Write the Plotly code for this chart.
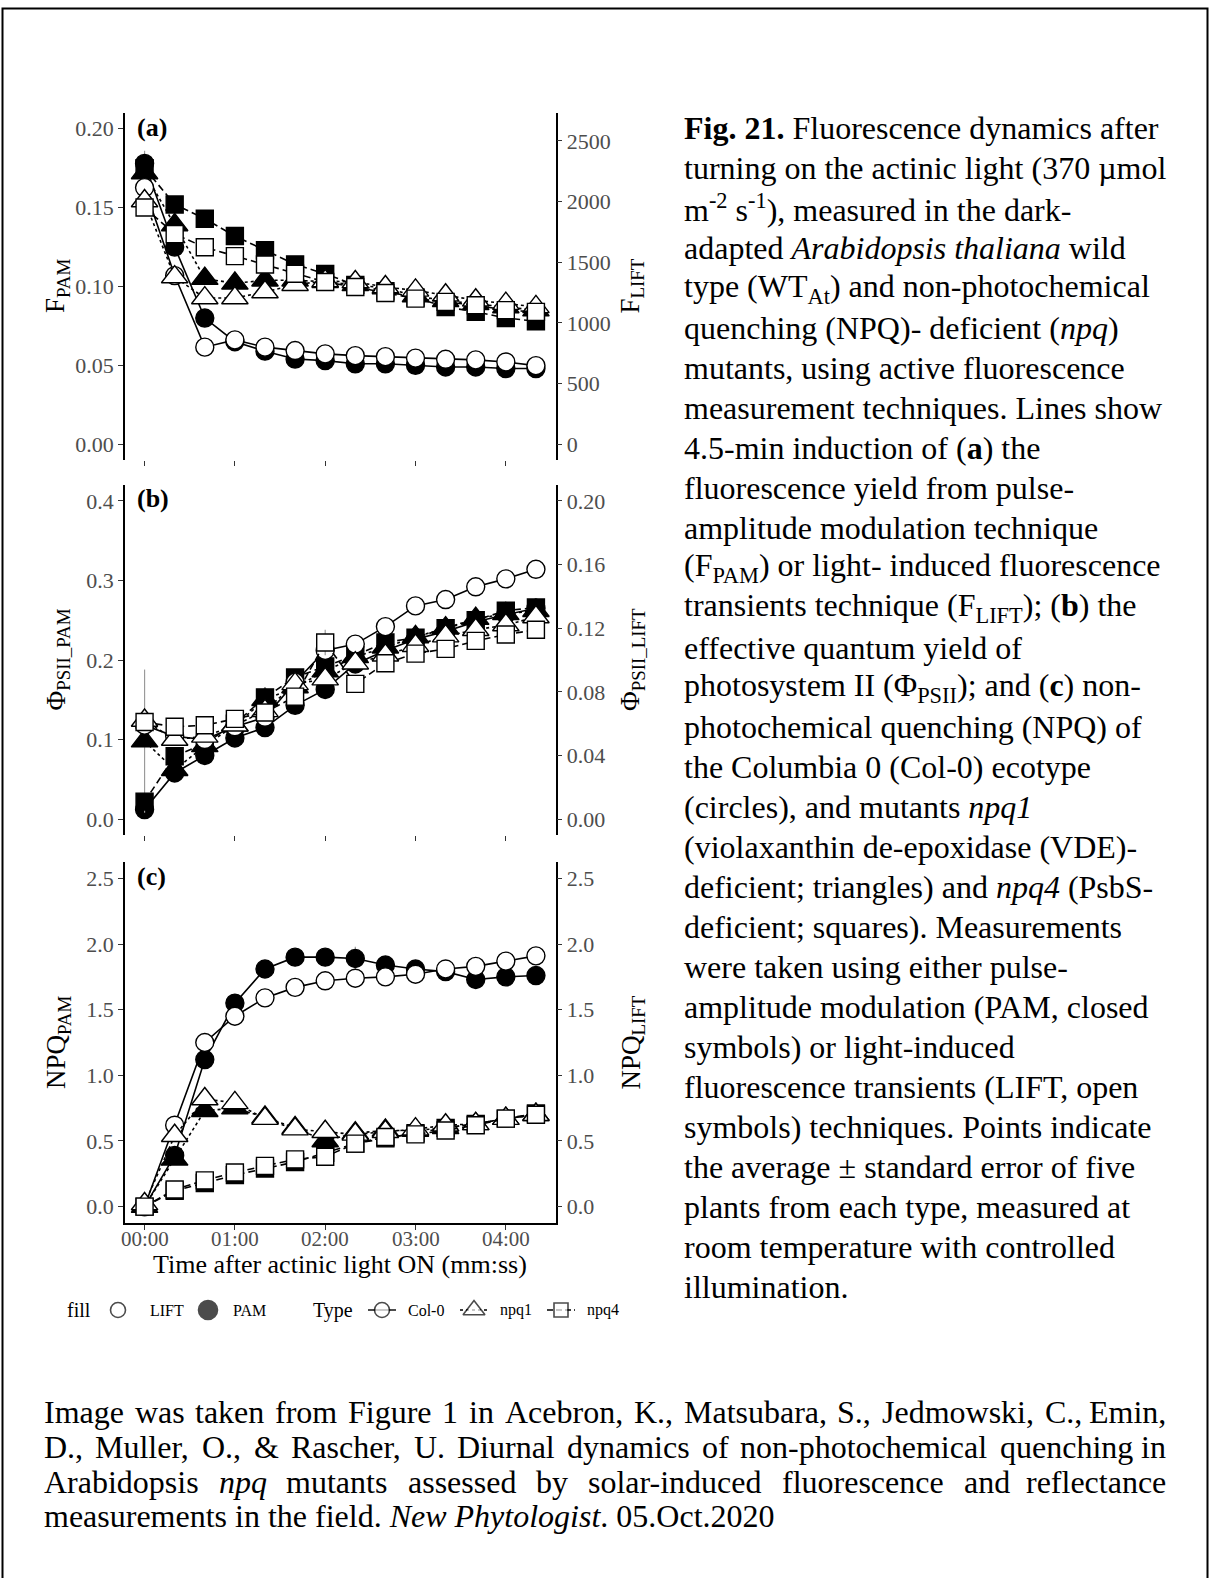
import plotly.graph_objects as go

W, H = 1210, 1578
SERIF = "Liberation Serif"
TICK_GREY = "#4D4D4D"

# ---------------------------------------------------------------- data
t_sec = [0, 20, 40, 60, 80, 100, 120, 140, 160, 180, 200, 220, 240, 260]
time_ticks = [0, 60, 120, 180, 240]
time_labels = ["00:00", "01:00", "02:00", "03:00", "04:00"]

# (a) fluorescence yield: PAM (left axis) and LIFT (right axis)
fpam_col0 = [0.178, 0.125, 0.080, 0.065, 0.059, 0.054, 0.053, 0.051, 0.051, 0.050, 0.049, 0.049, 0.048, 0.048]
fpam_npq1 = [0.172, 0.139, 0.105, 0.102, 0.104, 0.104, 0.103, 0.101, 0.099, 0.094, 0.091, 0.089, 0.087, 0.085]
fpam_npq4 = [0.175, 0.152, 0.143, 0.132, 0.123, 0.114, 0.108, 0.101, 0.097, 0.093, 0.087, 0.084, 0.080, 0.078]
flift_col0 = [2115, 1390, 800, 860, 800, 772, 745, 730, 722, 710, 700, 695, 678, 648]
flift_npq1 = [2005, 1378, 1205, 1205, 1255, 1315, 1345, 1337, 1296, 1268, 1228, 1187, 1159, 1132]
flift_npq4 = [1951, 1732, 1623, 1550, 1481, 1405, 1337, 1296, 1247, 1200, 1173, 1146, 1105, 1091]
fpam_col0_se = [0.008, 0, 0, 0, 0, 0, 0, 0, 0, 0, 0, 0, 0, 0]

# (b) effective quantum yield of PSII
phi_pam_col0 = [0.012, 0.058, 0.080, 0.102, 0.115, 0.143, 0.163, 0.195, 0.212, 0.226, 0.236, 0.248, 0.257, 0.265]
phi_pam_npq1 = [0.098, 0.062, 0.092, 0.118, 0.150, 0.166, 0.186, 0.204, 0.216, 0.229, 0.240, 0.252, 0.258, 0.262]
phi_pam_npq4 = [0.022, 0.079, 0.095, 0.120, 0.153, 0.178, 0.192, 0.206, 0.222, 0.228, 0.240, 0.250, 0.262, 0.266]
phi_lift_col0 = [0.059, 0.052, 0.050, 0.058, 0.064, 0.086, 0.106, 0.110, 0.121, 0.134, 0.138, 0.146, 0.151, 0.157]
phi_lift_npq1 = [0.062, 0.050, 0.052, 0.059, 0.068, 0.085, 0.088, 0.098, 0.103, 0.109, 0.115, 0.119, 0.122, 0.127]
phi_lift_npq4 = [0.061, 0.058, 0.059, 0.063, 0.067, 0.077, 0.111, 0.085, 0.098, 0.104, 0.107, 0.112, 0.116, 0.119]
phi_pam_npq1_se = [0.090, 0, 0, 0, 0, 0, 0, 0, 0, 0, 0, 0, 0, 0]
phi_pam_npq4_se = [0, 0, 0, 0, 0.012, 0, 0.010, 0, 0, 0, 0, 0, 0, 0]
phi_lift_npq4_se = [0, 0, 0, 0, 0, 0, 0.008, 0, 0, 0, 0, 0, 0, 0]

# (c) non-photochemical quenching
npq_pam_col0 = [0.00, 0.39, 1.12, 1.55, 1.81, 1.90, 1.90, 1.89, 1.84, 1.81, 1.79, 1.73, 1.75, 1.76]
npq_pam_npq1 = [0.00, 0.36, 0.73, 0.75, 0.68, 0.60, 0.50, 0.56, 0.58, 0.58, 0.60, 0.63, 0.67, 0.70]
npq_pam_npq4 = [0.00, 0.12, 0.18, 0.24, 0.29, 0.34, 0.41, 0.48, 0.52, 0.56, 0.60, 0.63, 0.67, 0.71]
npq_lift_col0 = [0.00, 0.62, 1.25, 1.45, 1.59, 1.67, 1.72, 1.74, 1.75, 1.77, 1.81, 1.83, 1.87, 1.91]
npq_lift_npq1 = [0.02, 0.54, 0.82, 0.79, 0.67, 0.59, 0.57, 0.55, 0.57, 0.59, 0.62, 0.63, 0.67, 0.70]
npq_lift_npq4 = [0.00, 0.13, 0.20, 0.26, 0.31, 0.36, 0.38, 0.48, 0.53, 0.55, 0.58, 0.62, 0.67, 0.70]
npq_pam_col0_se = [0, 0, 0, 0, 0, 0.03, 0, 0.09, 0.03, 0, 0, 0, 0, 0]

# ---------------------------------------------------------------- geometry helpers (pixels -> paper)
def px(x):
    return x / W


def py(y):
    return 1 - y / H


X_LEFT, X_RIGHT = 125, 555.5
PANEL_ROWS = {"a": (113, 460), "b": (485, 835), "c": (862, 1223)}

STYLE = {
    "Col-0": dict(symbol="circle", size=18, dash="solid"),
    "npq1": dict(symbol="triangle-up", size=23, dash="3px,3px"),
    "npq4": dict(symbol="square", size=17, dash="7px,4px"),
}

fig = go.Figure()


def add_series(xa, ya, yvals, genotype, filled, se=None):
    st = STYLE[genotype]
    err = None
    if se is not None:
        err = dict(type="data", array=se, visible=True, color="#9A9A9A", thickness=1.2, width=0)
    fig.add_trace(go.Scatter(
        x=t_sec, y=yvals, xaxis=xa, yaxis=ya, mode="lines+markers",
        line=dict(color="black", width=1.6, dash=st["dash"]),
        marker=dict(symbol=st["symbol"], size=st["size"],
                    color="black" if filled else "white",
                    line=dict(color="black", width=1.4)),
        error_y=err, showlegend=False, hoverinfo="skip",
    ))


# panel (a)
add_series("x", "y", fpam_col0, "Col-0", True, fpam_col0_se)
add_series("x", "y", fpam_npq1, "npq1", True)
add_series("x", "y", fpam_npq4, "npq4", True)
add_series("x", "y2", flift_col0, "Col-0", False)
add_series("x", "y2", flift_npq1, "npq1", False)
add_series("x", "y2", flift_npq4, "npq4", False)
# panel (b)
add_series("x2", "y3", phi_pam_col0, "Col-0", True)
add_series("x2", "y3", phi_pam_npq1, "npq1", True, phi_pam_npq1_se)
add_series("x2", "y3", phi_pam_npq4, "npq4", True, phi_pam_npq4_se)
add_series("x2", "y4", phi_lift_col0, "Col-0", False)
add_series("x2", "y4", phi_lift_npq1, "npq1", False)
add_series("x2", "y4", phi_lift_npq4, "npq4", False, phi_lift_npq4_se)
# panel (c)
add_series("x3", "y5", npq_pam_col0, "Col-0", True, npq_pam_col0_se)
add_series("x3", "y5", npq_pam_npq1, "npq1", True)
add_series("x3", "y5", npq_pam_npq4, "npq4", True)
add_series("x3", "y6", npq_lift_col0, "Col-0", False)
add_series("x3", "y6", npq_lift_npq1, "npq1", False)
add_series("x3", "y6", npq_lift_npq4, "npq4", False)

# ---------------------------------------------------------------- axes
tickfont = dict(family=SERIF, size=22, color=TICK_GREY)


def x_axis(anchor, bottom_line):
    return dict(
        domain=[px(X_LEFT), px(X_RIGHT)], range=[-13, 273], anchor=anchor,
        tickmode="array", tickvals=time_ticks, ticktext=time_labels,
        showticklabels=False, ticks="outside", ticklen=5, tickwidth=1.3,
        tickcolor="#333333", showline=bottom_line, linecolor="black", linewidth=1.6,
        showgrid=False, zeroline=False, tickfont=tickfont, fixedrange=True,
    )


def y_axis(row, rng, vals, texts, side, overlay=None, anchor="x"):
    top, bottom = PANEL_ROWS[row]
    ax = dict(
        range=rng, anchor=anchor, side=side, tickmode="array",
        tickvals=vals, ticktext=texts, ticks="outside", ticklen=5, tickwidth=1.3,
        tickcolor="#333333", showline=True, linecolor="black", linewidth=1.6,
        showgrid=False, zeroline=False, tickfont=tickfont, fixedrange=True,
    )
    if overlay:
        ax["overlaying"] = overlay
    else:
        ax["domain"] = [py(bottom), py(top)]
    return ax


fig.update_layout(
    xaxis=x_axis("y", False),
    xaxis2=x_axis("y3", False),
    xaxis3=x_axis("y5", True),
    yaxis=y_axis("a", [-0.01, 0.21], [0, 0.05, 0.10, 0.15, 0.20],
                 ["0.00", "0.05", "0.10", "0.15", "0.20"], "left"),
    yaxis2=y_axis("a", [-130, 2730], [0, 500, 1000, 1500, 2000, 2500],
                  ["0", "500", "1000", "1500", "2000", "2500"], "right", overlay="y"),
    yaxis3=y_axis("b", [-0.02, 0.42], [0, 0.1, 0.2, 0.3, 0.4],
                  ["0.0", "0.1", "0.2", "0.3", "0.4"], "left", anchor="x2"),
    yaxis4=y_axis("b", [-0.01, 0.21], [0, 0.04, 0.08, 0.12, 0.16, 0.20],
                  ["0.00", "0.04", "0.08", "0.12", "0.16", "0.20"], "right",
                  overlay="y3", anchor="x2"),
    yaxis5=y_axis("c", [-0.125, 2.625], [0, 0.5, 1.0, 1.5, 2.0, 2.5],
                  ["0.0", "0.5", "1.0", "1.5", "2.0", "2.5"], "left", anchor="x3"),
    yaxis6=y_axis("c", [-0.125, 2.625], [0, 0.5, 1.0, 1.5, 2.0, 2.5],
                  ["0.0", "0.5", "1.0", "1.5", "2.0", "2.5"], "right",
                  overlay="y5", anchor="x3"),
)

annotations = []


def text(x, y, s, size, xanchor="left", color="black", angle=0, xref="paper"):
    annotations.append(dict(
        x=px(x) if xref == "paper" else x, y=py(y), xref=xref, yref="paper",
        text=s, showarrow=False, xanchor=xanchor, yanchor="middle", textangle=angle,
        font=dict(family=SERIF, size=size, color=color),
    ))


# time tick labels under panel (c), positioned on the shared time scale
for tv, tl in zip(time_ticks, time_labels):
    text(tv, 1239, tl, 21, xanchor="center", color=TICK_GREY, xref="x3")

# ---------------------------------------------------------------- legend (drawn on a hidden pixel-scaled axis)
LEG_Y = 1310
fig.update_layout(
    xaxis4=dict(domain=[0, 1], range=[0, W], visible=False, anchor="y7", fixedrange=True),
    yaxis7=dict(domain=[py(1335), py(1285)], range=[1335, 1285], visible=False,
                anchor="x4", fixedrange=True),
)


def legend_key(xs, symbol, size, filled, dash=None):
    n = len(xs)
    sizes = [0] * n
    sizes[n // 2] = size
    fig.add_trace(go.Scatter(
        x=xs, y=[LEG_Y] * n, xaxis="x4", yaxis="y7",
        mode="lines+markers" if dash else "markers",
        line=dict(color="black", width=1.4, dash=dash or "solid"),
        marker=dict(symbol=symbol, size=sizes, color="black" if filled else "white",
                    line=dict(color="black", width=1.6)),
        showlegend=False, hoverinfo="skip",
    ))


legend_key([118], "circle", 15, False)
legend_key([208], "circle", 19, True)
legend_key([368, 382, 396], "circle", 15, False, "solid")
legend_key([460, 474, 488], "triangle-up", 19, False, "3px,3px")
legend_key([547, 561, 575], "square", 14, False, "6px,3px")

for label, xx in [("fill", 65), ("Type", 311)]:
    text(xx, LEG_Y, label, 20)
for label, xx in [("LIFT", 148), ("PAM", 231), ("Col-0", 406), ("npq1", 498), ("npq4", 585)]:
    text(xx, LEG_Y, label, 16)

# ---------------------------------------------------------------- panel tags and axis titles
for tag, (top, bottom) in PANEL_ROWS.items():
    text(135, top + 14, f"<b>({tag})</b>", 26)

titles = {
    "a": ("F<sub>PAM</sub>", "F<sub>LIFT</sub>"),
    "b": ("Φ<sub>PSII_PAM</sub>", "Φ<sub>PSII_LIFT</sub>"),
    "c": ("NPQ<sub>PAM</sub>", "NPQ<sub>LIFT</sub>"),
}
for tag, (left_t, right_t) in titles.items():
    top, bottom = PANEL_ROWS[tag]
    yc = (top + bottom) / 2
    text(57.5, yc, left_t, 27, xanchor="center", angle=-90)
    text(632, yc, right_t, 27, xanchor="center", angle=-90)

text((X_LEFT + X_RIGHT) / 2, 1264, "Time after actinic light ON (mm:ss)", 26, xanchor="center")

# ---------------------------------------------------------------- caption column
caption_lines = [
    "<b>Fig. 21.</b> Fluorescence dynamics after",
    "turning on the actinic light (370 µmol",
    "m<sup>-2</sup> s<sup>-1</sup>), measured in the dark-",
    "adapted <i>Arabidopsis thaliana</i> wild",
    "type (WT<sub>At</sub>) and non-photochemical",
    "quenching (NPQ)- deficient (<i>npq</i>)",
    "mutants, using active fluorescence",
    "measurement techniques. Lines show",
    "4.5-min induction of (<b>a</b>) the",
    "fluorescence yield from pulse-",
    "amplitude modulation technique",
    "(F<sub>PAM</sub>) or light- induced fluorescence",
    "transients technique (F<sub>LIFT</sub>); (<b>b</b>) the",
    "effective quantum yield of",
    "photosystem II (Φ<sub>PSII</sub>); and (<b>c</b>) non-",
    "photochemical quenching (NPQ) of",
    "the Columbia 0 (Col-0) ecotype",
    "(circles), and mutants <i>npq1</i>",
    "(violaxanthin de-epoxidase (VDE)-",
    "deficient; triangles) and <i>npq4</i> (PsbS-",
    "deficient; squares). Measurements",
    "were taken using either pulse-",
    "amplitude modulation (PAM, closed",
    "symbols) or light-induced",
    "fluorescence transients (LIFT, open",
    "symbols) techniques. Points indicate",
    "the average ± standard error of five",
    "plants from each type, measured at",
    "room temperature with controlled",
    "illumination.",
]
BODY = 32
for i, line in enumerate(caption_lines):
    text(682, 128.3 + i * 39.94, line, BODY)

# ---------------------------------------------------------------- justified source note
ROMAN_W = {}
for chars, w in [(" .,", 250), ("ijlt:;", 278), ("frI-()", 333), ("sJ", 389),
                 ("acez", 444), ("bdghknopquvxy0123456789", 500), ("FPS", 556),
                 ("ELTZ", 611), ("BCR", 667), ("wADGHKNOQUVXY", 722), ("m&", 778),
                 ("M", 889), ("W", 944)]:
    for ch in chars:
        ROMAN_W[ch] = w
ITALIC_W = dict(ROMAN_W)
for chars, w in [("fijlt", 278), ("rsz", 389), ("ckvxye", 444), ("abdghnopqu", 500),
                 ("P", 611), ("Nw", 667), ("m", 722)]:
    for ch in chars:
        ITALIC_W[ch] = w


def word_width(word, italic, size):
    table = ITALIC_W if italic else ROMAN_W
    return sum(table.get(ch, 500) for ch in word) * size / 1000


def justified_line(words, x0, x1, y, size):
    widths = [word_width(w, it, size) for w, it in words]
    gap = (x1 - x0 - sum(widths)) / (len(words) - 1)
    x = x0
    for i, ((w, it), wd) in enumerate(zip(words, widths)):
        s = w.replace("&", "&amp;")
        if it:
            s = f"<i>{s}</i>"
        if i == len(words) - 1:
            text(x1, y, s, size, xanchor="right")
        else:
            text(x, y, s, size)
        x += wd + gap


def split_words(line, italic_words=()):
    return [(w, w in italic_words) for w in line.split(" ")]


NOTE_X0, NOTE_X1 = 42, 1168
note_lines = [
    "Image was taken from Figure 1 in Acebron, K., Matsubara, S., Jedmowski, C., Emin,",
    "D., Muller, O., & Rascher, U. Diurnal dynamics of non-photochemical quenching in",
    "Arabidopsis npq mutants assessed by solar-induced fluorescence and reflectance",
]
note_y = [1412, 1447, 1482, 1516]
for line, yy in zip(note_lines, note_y):
    justified_line(split_words(line, ("npq",)), NOTE_X0, NOTE_X1, yy, BODY)
text(NOTE_X0, note_y[3],
     "measurements in the field. <i>New Phytologist</i>. 05.Oct.2020", BODY)

# ---------------------------------------------------------------- page frame
frame = dict(type="rect", xref="paper", yref="paper",
             x0=px(2.5), x1=px(1207.5), y0=py(1590), y1=py(8.5),
             line=dict(color="black", width=2), fillcolor="rgba(0,0,0,0)", layer="above")

fig.update_layout(
    width=W, height=H, margin=dict(l=0, r=0, t=0, b=0),
    paper_bgcolor="white", plot_bgcolor="white",
    annotations=annotations, shapes=[frame],
    font=dict(family=SERIF, color="black"), showlegend=False,
)

fig.write_html("out.html")
